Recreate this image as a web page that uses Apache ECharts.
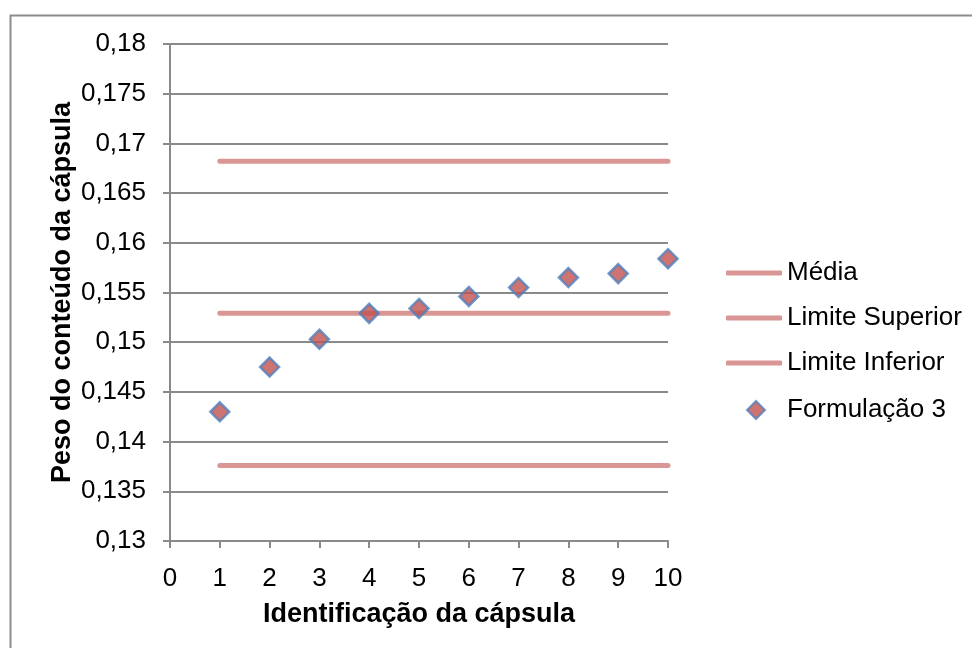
<!DOCTYPE html>
<html>
<head>
<meta charset="utf-8">
<script src="https://cdn.jsdelivr.net/npm/echarts@6/dist/echarts.min.js"></script>
<style>
  html, body { margin: 0; padding: 0; background: #ffffff; }
  #chart { width: 972px; height: 648px; }
</style>
</head>
<body>
<div id="chart"></div>
<script>
// Capsule identifiers (x axis)
const capsulas = [1, 2, 3, 4, 5, 6, 7, 8, 9, 10];

// Content weight of each capsule, formulation 3
const formulacao3 = [0.1430, 0.1475, 0.1503, 0.1529, 0.1534, 0.1546, 0.1555, 0.1565, 0.1569, 0.1584];

// Control lines (mean and ±10% limits)
const media = [0.1529, 0.1529, 0.1529, 0.1529, 0.1529, 0.1529, 0.1529, 0.1529, 0.1529, 0.1529];
const limiteSuperior = [0.1682, 0.1682, 0.1682, 0.1682, 0.1682, 0.1682, 0.1682, 0.1682, 0.1682, 0.1682];
const limiteInferior = [0.1376, 0.1376, 0.1376, 0.1376, 0.1376, 0.1376, 0.1376, 0.1376, 0.1376, 0.1376];

// Axis ranges and ticks
const xTicks = { min: 0, max: 10, interval: 1 };
const yTicks = { min: 0.13, max: 0.18, interval: 0.005 };

const FONT = "'Liberation Sans', Arial, Helvetica, sans-serif";
const GRID_COLOR = '#8a8a8a';
const LINE_COLOR = '#d99694';

const pairs = (ys) => capsulas.map((x, i) => [x, ys[i]]);

const lineSeries = (name, ys) => ({
  name: name,
  type: 'line',
  data: pairs(ys),
  symbol: 'none',
  silent: true,
  lineStyle: { color: LINE_COLOR, width: 5, cap: 'round' },
  itemStyle: { color: LINE_COLOR },
  z: 2
});

const legendText = { fontFamily: FONT, fontSize: 26, color: '#000', lineHeight: 26 };

const chart = echarts.init(document.getElementById('chart'), null, { renderer: 'canvas' });

chart.setOption({
  animation: false,
  backgroundColor: '#ffffff',
  textStyle: { fontFamily: FONT },
  graphic: [{
    type: 'rect',
    left: 8, top: 13,
    shape: { width: 1000, height: 1000 },
    style: { fill: 'none', stroke: '#8c8c8c', lineWidth: 2 },
    silent: true
  }],
  grid: { left: 170, right: 304, top: 44, bottom: 107 },
  legend: [
    {
      // control lines
      orient: 'vertical',
      left: 721,
      top: 255,
      itemWidth: 56,
      itemHeight: 5,
      itemGap: 19,
      icon: 'roundRect',
      textStyle: legendText,
      data: ['Média', 'Limite Superior', 'Limite Inferior']
    },
    {
      // measured points
      orient: 'vertical',
      left: 741,
      top: 392,
      itemWidth: 18,
      itemHeight: 18,
      icon: 'diamond',
      textStyle: Object.assign({}, legendText, { padding: [0, 0, 0, 17] }),
      data: ['Formulação 3']
    }
  ],
  xAxis: {
    type: 'value',
    min: xTicks.min, max: xTicks.max, interval: xTicks.interval,
    name: 'Identificação da cápsula',
    nameLocation: 'middle',
    nameGap: 60,
    nameMoveOverlap: false,
    nameTextStyle: { fontFamily: FONT, fontSize: 27, fontWeight: 'bold', color: '#000', verticalAlign: 'top' },
    axisLine: { show: true, lineStyle: { color: GRID_COLOR, width: 2 } },
    axisTick: { show: true, length: 7, inside: false, lineStyle: { color: GRID_COLOR, width: 2 } },
    axisLabel: { fontFamily: FONT, fontSize: 26, color: '#000', margin: 25 },
    splitLine: { show: false }
  },
  yAxis: {
    type: 'value',
    min: yTicks.min, max: yTicks.max, interval: yTicks.interval,
    name: 'Peso do conteúdo da cápsula',
    nameLocation: 'middle',
    nameRotate: 90,
    nameGap: 94,
    nameMoveOverlap: false,
    nameTextStyle: { fontFamily: FONT, fontSize: 27, fontWeight: 'bold', color: '#000' },
    axisLine: { show: true, lineStyle: { color: GRID_COLOR, width: 2 } },
    axisTick: { show: true, length: 7, inside: false, lineStyle: { color: GRID_COLOR, width: 2 } },
    axisLabel: {
      fontFamily: FONT, fontSize: 26, color: '#000', margin: 24,
      formatter: (v) => String(Math.round(v * 1000) / 1000).replace('.', ',')
    },
    splitLine: { show: true, lineStyle: { color: GRID_COLOR, width: 2 } }
  },
  series: [
    lineSeries('Média', media),
    lineSeries('Limite Superior', limiteSuperior),
    lineSeries('Limite Inferior', limiteInferior),
    {
      name: 'Formulação 3',
      type: 'scatter',
      data: pairs(formulacao3),
      symbol: 'diamond',
      symbolSize: 19,
      itemStyle: { color: '#c0504d', borderColor: '#4f81bd', borderWidth: 2.5 },
      z: 3
    }
  ]
});
</script>
</body>
</html>
